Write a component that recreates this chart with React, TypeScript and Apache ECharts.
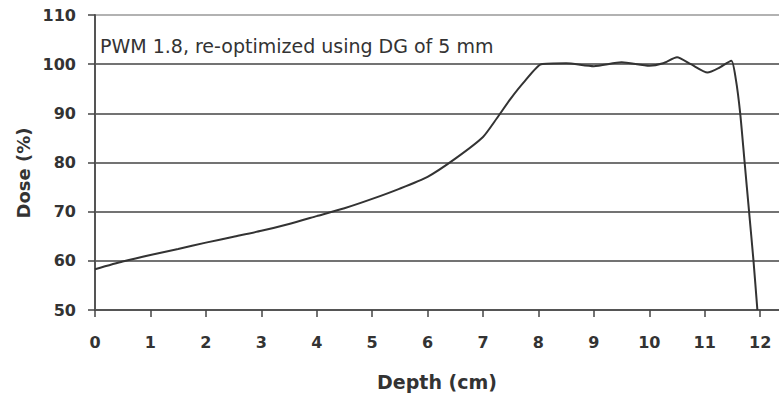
import React, { useEffect, useRef } from "react";
import * as echarts from "echarts";

const depthCm = [0, 0.5, 1, 1.5, 2, 2.5, 3, 3.5, 4, 4.5, 5, 5.5, 6, 6.5, 7, 7.25, 7.5, 7.75, 8.05, 8.5, 9, 9.5, 10, 10.25, 10.5, 10.75, 11.05, 11.25, 11.48, 11.56, 11.64, 11.72, 11.8, 11.88, 11.95];
const dosePct = [58.3, 59.85, 61.2, 62.4, 63.7, 64.9, 66.1, 67.5, 69.1, 70.7, 72.6, 74.7, 77.1, 80.8, 85.2, 89, 93, 96.5, 100, 100.2, 99.6, 100.4, 99.7, 100.2, 101.4, 100, 98.3, 99.2, 100.7, 97, 90, 80, 70, 60, 50];
const xTicks = [0, 1, 2, 3, 4, 5, 6, 7, 8, 9, 10, 11, 12];
const annotation = "PWM 1.8, re-optimized using DG of 5 mm";

export default function App() {
  const ref = useRef<HTMLDivElement>(null);
  useEffect(() => {
    if (!ref.current) return;
    const chart = echarts.init(ref.current, null, { renderer: "svg" });
    const font = "DejaVu Sans";
    chart.setOption({
      animation: false,
      grid: { left: 95, right: 0, top: 15, bottom: 88 },
      xAxis: {
        type: "value",
        min: 0,
        max: 12.34,
        interval: 1,
        name: "Depth (cm)",
        nameLocation: "middle",
        nameGap: 62,
        nameTextStyle: { fontFamily: font, fontWeight: "bold", fontSize: 19, color: "#333" },
        axisLine: { show: true, onZero: false, lineStyle: { color: "#555", width: 2 } },
        axisTick: { show: true, length: 7, customValues: xTicks, lineStyle: { color: "#444", width: 1.5 } },
        axisLabel: { customValues: xTicks, margin: 24, fontFamily: font, fontWeight: "bold", fontSize: 16, color: "#333" },
        splitLine: { show: false },
      },
      yAxis: {
        type: "value",
        min: 50,
        max: 110,
        interval: 10,
        axisLine: { show: true, lineStyle: { color: "#555", width: 2 } },
        axisTick: { show: true, length: 7, lineStyle: { color: "#444", width: 1.5 } },
        axisLabel: { margin: 19, fontFamily: font, fontWeight: "bold", fontSize: 16, color: "#333" },
        splitLine: {
          show: true,
          lineStyle: { color: ["#444", "#444", "#444", "#444", "#444", "#444", "#999"], width: 1.5 },
        },
      },
      graphic: [
        {
          type: "text",
          x: 23,
          y: 173,
          rotation: Math.PI / 2,
          style: {
            text: "Dose (%)",
            fontFamily: font,
            fontWeight: "bold",
            fontSize: 18,
            fill: "#333",
            align: "center",
            verticalAlign: "middle",
          },
        },
        {
          type: "text",
          x: 100,
          y: 46,
          style: {
            text: annotation,
            fontFamily: font,
            fontSize: 19,
            fill: "#333",
            align: "left",
            verticalAlign: "middle",
          },
        },
      ],
      series: [
        {
          type: "line",
          data: depthCm.map((d, i) => [d, dosePct[i]]),
          smooth: 0.2,
          showSymbol: false,
          lineStyle: { color: "#333", width: 2 },
        },
      ],
    });
    return () => chart.dispose();
  }, []);
  return <div ref={ref} style={{ width: 779, height: 398, position: "absolute", left: 0, top: 0 }} />;
}
